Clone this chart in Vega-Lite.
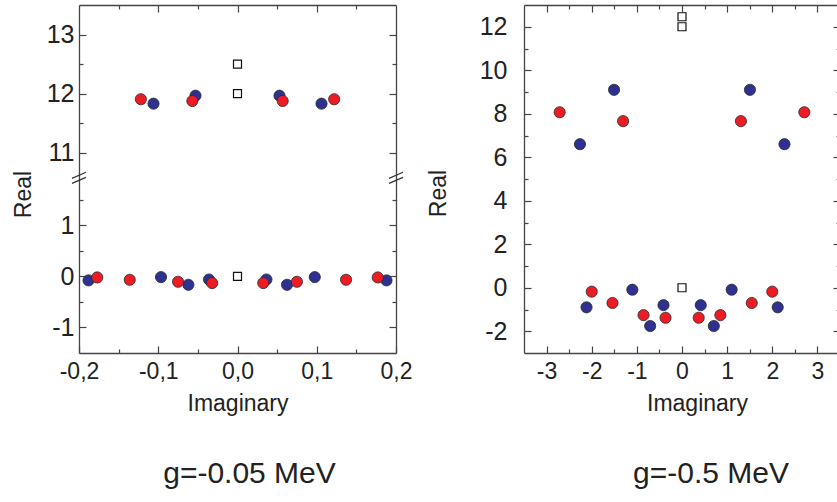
{
  "$schema": "https://vega.github.io/schema/vega-lite/v6.json",
  "background": "white",
  "padding": {"left": 12, "top": 4, "right": 0, "bottom": 0},
  "spacing": 15,
  "config": {
    "font": "Liberation Sans",
    "view": {"stroke": null},
    "axis": {
      "grid": false,
      "domainColor": "#444444",
      "domainWidth": 1.3,
      "tickColor": "#444444",
      "tickWidth": 1.2,
      "labelColor": "#222222",
      "titleColor": "#222222",
      "labelFont": "Liberation Sans",
      "titleFont": "Liberation Sans",
      "titleFontWeight": "normal",
      "labelOverlap": false,
      "labelFlush": false
    },
    "title": {"font": "Liberation Sans", "fontWeight": "normal", "color": "#222222"}
  },
  "datasets": {
    "left": [
      {"s": "blue", "x": -0.106, "y": 11.83},
      {"s": "blue", "x": -0.053, "y": 11.965},
      {"s": "blue", "x": 0.053, "y": 11.965},
      {"s": "blue", "x": 0.106, "y": 11.83},
      {"s": "blue", "x": -0.188, "y": -0.078},
      {"s": "blue", "x": -0.0965, "y": -0.014},
      {"s": "blue", "x": -0.062, "y": -0.164},
      {"s": "blue", "x": -0.036, "y": -0.06},
      {"s": "blue", "x": 0.0365, "y": -0.06},
      {"s": "blue", "x": 0.0625, "y": -0.164},
      {"s": "blue", "x": 0.0975, "y": -0.014},
      {"s": "blue", "x": 0.188, "y": -0.078},
      {"s": "red", "x": -0.122, "y": 11.905},
      {"s": "red", "x": -0.057, "y": 11.875},
      {"s": "red", "x": 0.057, "y": 11.875},
      {"s": "red", "x": 0.122, "y": 11.905},
      {"s": "red", "x": -0.177, "y": -0.02},
      {"s": "red", "x": -0.136, "y": -0.066},
      {"s": "red", "x": -0.075, "y": -0.105},
      {"s": "red", "x": -0.032, "y": -0.13},
      {"s": "red", "x": 0.0325, "y": -0.13},
      {"s": "red", "x": 0.075, "y": -0.105},
      {"s": "red", "x": 0.137, "y": -0.066},
      {"s": "red", "x": 0.177, "y": -0.02},
      {"s": "sq", "x": 0, "y": 12.5},
      {"s": "sq", "x": 0, "y": 12.0},
      {"s": "sq", "x": 0, "y": 0}
    ],
    "leftbreak": [
      {"x": -0.2, "y": 6.25},
      {"x": 0.2, "y": 6.25}
    ],
    "right": [
      {"s": "blue", "x": -2.26, "y": 6.6},
      {"s": "blue", "x": -1.505, "y": 9.1},
      {"s": "blue", "x": 1.505, "y": 9.1},
      {"s": "blue", "x": 2.27, "y": 6.6},
      {"s": "blue", "x": -2.115, "y": -0.9},
      {"s": "blue", "x": -1.1, "y": -0.09},
      {"s": "blue", "x": -0.705, "y": -1.76},
      {"s": "blue", "x": -0.41, "y": -0.8},
      {"s": "blue", "x": 0.415, "y": -0.8},
      {"s": "blue", "x": 0.705, "y": -1.76},
      {"s": "blue", "x": 1.1, "y": -0.09},
      {"s": "blue", "x": 2.12, "y": -0.9},
      {"s": "red", "x": -2.71, "y": 8.07},
      {"s": "red", "x": -1.305, "y": 7.66},
      {"s": "red", "x": 1.305, "y": 7.66},
      {"s": "red", "x": 2.71, "y": 8.07},
      {"s": "red", "x": -2.0, "y": -0.18},
      {"s": "red", "x": -1.54, "y": -0.7},
      {"s": "red", "x": -0.852, "y": -1.26},
      {"s": "red", "x": -0.365, "y": -1.38},
      {"s": "red", "x": 0.37, "y": -1.38},
      {"s": "red", "x": 0.85, "y": -1.26},
      {"s": "red", "x": 1.545, "y": -0.7},
      {"s": "red", "x": 2.0, "y": -0.18},
      {"s": "sq", "x": 0, "y": 12.46},
      {"s": "sq", "x": 0, "y": 12.0},
      {"s": "sq", "x": 0, "y": 0}
    ]
  },
  "hconcat": [
    {
      "width": 317,
      "height": 348,
      "title": {"text": "g=-0.05 MeV", "orient": "bottom", "fontSize": 30, "offset": 44, "dx": 12},
      "layer": [
        {
          "data": {"name": "left"},
          "transform": [{"filter": "datum.s !== 'sq'"}],
          "mark": {"type": "point", "filled": true, "shape": "circle", "size": 125, "stroke": "#2b2b2b", "strokeWidth": 0.8, "opacity": 1},
          "encoding": {
            "x": {
              "field": "x", "type": "quantitative",
              "scale": {"domain": [-0.2, 0.2], "nice": false, "zero": false},
              "axis": {
                "orient": "bottom",
                "values": [-0.2, -0.15, -0.1, -0.05, 0, 0.05, 0.1, 0.15, 0.2],
                "labelExpr": "abs(datum.value*10 - round(datum.value*10)) < 0.001 ? (datum.value < -0.0001 ? '-' : '') + replace(format(abs(datum.value), '.1f'), '.', ',') : ''",
                "tickSize": {"condition": {"test": "abs(datum.value*10 - round(datum.value*10)) < 0.001", "value": -7}, "value": -4},
                "labelFontSize": 23,
                "labelPadding": 14,
                "title": "Imaginary",
                "titleFontSize": 23,
                "titlePadding": 6
              }
            },
            "y": {
              "field": "y", "type": "quantitative",
              "scale": {"domain": [-1.5, 1.9, 10.6, 13.5], "range": [348, 174.4, 171.3, 0], "nice": false, "zero": false},
              "axis": {
                "orient": "left",
                "values": [-1, -0.5, 0, 0.5, 1, 1.5, 11, 11.5, 12, 12.5, 13],
                "labelExpr": "datum.value % 1 === 0 ? '' + datum.value : ''",
                "tickSize": {"condition": {"test": "datum.value % 1 === 0", "value": -7}, "value": -4},
                "labelFontSize": 25,
                "labelPadding": 12,
                "title": "Real",
                "titleFontSize": 23,
                "titlePadding": 11,
                "titleY": 189
              }
            },
            "fill": {"field": "s", "type": "nominal", "scale": {"domain": ["blue", "red"], "range": ["#2E3192", "#ED1C24"]}, "legend": null}
          }
        },
        {
          "data": {"name": "left"},
          "transform": [{"filter": "datum.s === 'sq'"}],
          "mark": {"type": "point", "filled": true, "shape": "square", "size": 64, "fill": "white", "stroke": "#111111", "strokeWidth": 1.2, "opacity": 1},
          "encoding": {
            "x": {
              "field": "x", "type": "quantitative",
              "scale": {"domain": [-0.2, 0.2], "nice": false, "zero": false},
              "axis": {
                "orient": "top",
                "values": [-0.15, -0.1, -0.05, 0, 0.05, 0.1, 0.15],
                "labels": false,
                "title": null,
                "minExtent": 0,
                "maxExtent": 0,
                "tickSize": {"condition": {"test": "abs(datum.value*10 - round(datum.value*10)) < 0.001", "value": -7}, "value": -4}
              }
            },
            "y": {
              "field": "y", "type": "quantitative",
              "scale": {"domain": [-1.5, 1.9, 10.6, 13.5], "range": [348, 174.4, 171.3, 0], "nice": false, "zero": false},
              "axis": {
                "orient": "right",
                "values": [-1, -0.5, 0, 0.5, 1, 1.5, 11, 11.5, 12, 12.5, 13],
                "labels": false,
                "title": null,
                "minExtent": 0,
                "maxExtent": 0,
                "tickSize": {"condition": {"test": "datum.value % 1 === 0", "value": -7}, "value": -4}
              }
            }
          }
        },
        {
          "data": {"name": "leftbreak"},
          "mark": {"type": "point", "filled": false, "shape": "M -1 0.07 L 1 -0.79 M -1 0.79 L 1 -0.07", "size": 196, "stroke": "#333333", "strokeWidth": 1.2, "opacity": 1},
          "encoding": {
            "x": {"field": "x", "type": "quantitative", "scale": {"domain": [-0.2, 0.2], "nice": false, "zero": false}, "axis": null},
            "y": {"field": "y", "type": "quantitative", "scale": {"domain": [-1.5, 1.9, 10.6, 13.5], "range": [348, 174.4, 171.3, 0], "nice": false, "zero": false}, "axis": null}
          }
        }
      ],
      "resolve": {"axis": {"x": "independent", "y": "independent"}}
    },
    {
      "width": 316,
      "height": 348,
      "title": {"text": "g=-0.5 MeV", "orient": "bottom", "fontSize": 30, "offset": 44, "dx": 29},
      "data": {"name": "right"},
      "layer": [
        {
          "transform": [{"filter": "datum.s !== 'sq'"}],
          "mark": {"type": "point", "filled": true, "shape": "circle", "size": 125, "stroke": "#2b2b2b", "strokeWidth": 0.8, "opacity": 1},
          "encoding": {
            "x": {
              "field": "x", "type": "quantitative",
              "scale": {"domain": [-3.5, 3.5], "nice": false, "zero": false},
              "axis": {
                "orient": "bottom",
                "values": [-3, -2.5, -2, -1.5, -1, -0.5, 0, 0.5, 1, 1.5, 2, 2.5, 3],
                "labelExpr": "datum.value % 1 === 0 ? '' + datum.value : ''",
                "tickSize": {"condition": {"test": "datum.value % 1 === 0", "value": -7}, "value": -4},
                "labelFontSize": 23,
                "labelPadding": 14,
                "title": "Imaginary",
                "titleFontSize": 23,
                "titlePadding": 6,
                "titleX": 173
              }
            },
            "y": {
              "field": "y", "type": "quantitative",
              "scale": {"domain": [-3, 13], "nice": false, "zero": false},
              "axis": {
                "orient": "left",
                "values": [-2, -1, 0, 1, 2, 3, 4, 5, 6, 7, 8, 9, 10, 11, 12],
                "labelExpr": "datum.value % 2 === 0 ? '' + datum.value : ''",
                "tickSize": {"condition": {"test": "datum.value % 2 === 0", "value": -7}, "value": -4},
                "labelFontSize": 25,
                "labelPadding": 24,
                "title": "Real",
                "titleFontSize": 23,
                "titlePadding": 29,
                "titleY": 188
              }
            },
            "fill": {"field": "s", "type": "nominal", "scale": {"domain": ["blue", "red"], "range": ["#2E3192", "#ED1C24"]}, "legend": null}
          }
        },
        {
          "transform": [{"filter": "datum.s === 'sq'"}],
          "mark": {"type": "point", "filled": true, "shape": "square", "size": 64, "fill": "white", "stroke": "#111111", "strokeWidth": 1.2, "opacity": 1},
          "encoding": {
            "x": {
              "field": "x", "type": "quantitative",
              "scale": {"domain": [-3.5, 3.5], "nice": false, "zero": false},
              "axis": {
                "orient": "top",
                "values": [-3, -2.5, -2, -1.5, -1, -0.5, 0, 0.5, 1, 1.5, 2, 2.5, 3],
                "labels": false,
                "title": null,
                "minExtent": 0,
                "maxExtent": 0,
                "tickSize": {"condition": {"test": "datum.value % 1 === 0", "value": -7}, "value": -4}
              }
            },
            "y": {
              "field": "y", "type": "quantitative",
              "scale": {"domain": [-3, 13], "nice": false, "zero": false},
              "axis": {
                "orient": "right",
                "values": [-2, -1, 0, 1, 2, 3, 4, 5, 6, 7, 8, 9, 10, 11, 12],
                "labels": false,
                "title": null,
                "minExtent": 0,
                "maxExtent": 0,
                "tickSize": {"condition": {"test": "datum.value % 2 === 0", "value": -7}, "value": -4}
              }
            }
          }
        }
      ],
      "resolve": {"axis": {"x": "independent", "y": "independent"}}
    }
  ]
}
